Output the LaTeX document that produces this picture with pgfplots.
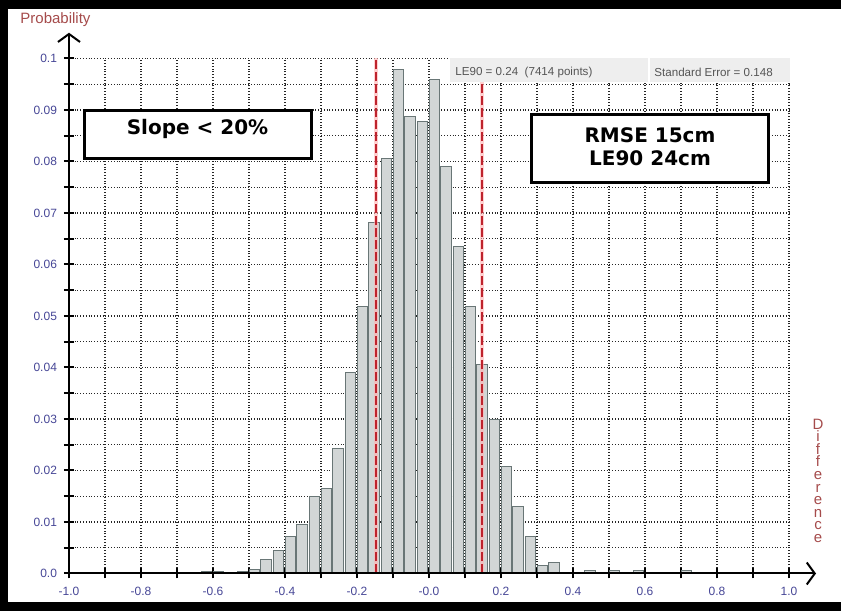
\documentclass[border=0pt]{standalone}
\usepackage{fontspec}
\setmainfont{Liberation Sans}
\newfontfamily\boxfont{DejaVu Sans}
\usepackage{pgfplots}
\usepackage{pgfplotstable}
\pgfplotsset{compat=1.18}
\usetikzlibrary{arrows.meta}

\definecolor{tickblue}{RGB}{70,70,150}
\definecolor{labelred}{RGB}{165,75,75}
\definecolor{barfill}{RGB}{210,214,214}
\definecolor{baredge}{RGB}{105,118,118}
\definecolor{lered}{RGB}{190,35,45}
\definecolor{infogray}{RGB}{238,238,238}
\definecolor{infotext}{RGB}{85,85,85}

% bin centre, probability (bins of 1/30)
\pgfplotstableread{
x y
-0.6188 0.0004
-0.5855 0.0004
-0.5522 0.0001
-0.5188 0.0004
-0.4855 0.0008
-0.4522 0.0027
-0.4188 0.0045
-0.3855 0.0072
-0.3522 0.0096
-0.3188 0.0149
-0.2855 0.0166
-0.2522 0.0242
-0.2188 0.0391
-0.1855 0.0518
-0.1522 0.0681
-0.1188 0.0805
-0.0855 0.0978
-0.0522 0.0888
-0.0188 0.0877
0.0145 0.0960
0.0478 0.0790
0.0812 0.0635
0.1145 0.0518
0.1478 0.0406
0.1812 0.0299
0.2145 0.0208
0.2478 0.0130
0.2812 0.0072
0.3145 0.0016
0.3478 0.0022
0.4478 0.0006
0.5145 0.0006
0.5812 0.0006
0.7145 0.0006
}\hist

\begin{document}
\begin{tikzpicture}
\begin{axis}[
    scale only axis,
    width=360pt, height=257.5pt,
    xmin=-1, xmax=1, ymin=0, ymax=0.1,
    axis lines=left,
    axis line style={line width=1pt, -},
    xtick={-1,-0.8,-0.6,-0.4,-0.2,0,0.2,0.4,0.6,0.8,1},
    xticklabels={-1.0,-0.8,-0.6,-0.4,-0.2,-0.0,0.2,0.4,0.6,0.8,1.0},
    minor xtick={-0.9,-0.7,-0.5,-0.3,-0.1,0.1,0.3,0.5,0.7,0.9},
    ytick={0,0.01,0.02,0.03,0.04,0.05,0.06,0.07,0.08,0.09,0.1},
    yticklabels={0.0,0.01,0.02,0.03,0.04,0.05,0.06,0.07,0.08,0.09,0.1},
    minor ytick={0.005,0.015,0.025,0.035,0.045,0.055,0.065,0.075,0.085,0.095},
    grid=both,
    major grid style={black!85, densely dotted, line width=0.6pt},
    minor grid style={black!85, densely dotted, line width=0.6pt},
    tick align=center,
    major tick length=5pt,
    minor tick length=5pt,
    every tick/.style={draw=black, solid, line width=1pt},
    tick label style={font=\fontsize{6}{7}\selectfont, text=tickblue},
    xticklabel style={yshift=-1pt},
    clip=false,
]
\addplot[ybar, bar width=0.029, fill=barfill, draw=baredge, line width=0.5pt] table {\hist};

% LE90 limits
\draw[red!30, line width=2pt, opacity=0.6] (axis cs:-0.148,0) -- (axis cs:-0.148,0.1);
\draw[red!30, line width=2pt, opacity=0.6] (axis cs:0.148,0) -- (axis cs:0.148,0.1);
\draw[lered, line width=1pt, dash pattern=on 4.5pt off 1.5pt] (axis cs:-0.148,0) -- (axis cs:-0.148,0.1);
\draw[lered, line width=1pt, dash pattern=on 4.5pt off 1.5pt] (axis cs:0.148,0) -- (axis cs:0.148,0.1);

% axes with open arrow heads
\draw[line width=1pt, -{Straight Barb[length=4pt,width=11pt]}] (axis cs:-1,0) -- (axis cs:1.075,0);
\draw[line width=1pt, -{Straight Barb[length=4pt,width=11pt]}] (axis cs:-1,0) -- (axis cs:-1,0.105);

% info strip
\fill[infogray] (axis cs:0.0583,0.0955) rectangle (axis cs:1.0028,0.1);
\draw[white, line width=1pt] (axis cs:0.611,0.0955) -- (axis cs:0.611,0.1);
\node[anchor=west, text=infotext, font=\fontsize{5.8}{7}\selectfont, inner sep=0pt]
    at (axis cs:0.0722,0.09724) {LE90 = 0.24\ \ (7414 points)};
\node[anchor=west, text=infotext, font=\fontsize{5.8}{7}\selectfont, inner sep=0pt]
    at (axis cs:0.625,0.09724) {Standard Error = 0.148};

% annotation boxes
\draw[line width=1.5pt, fill=white] (axis cs:-0.9569,0.08058) rectangle (axis cs:-0.3264,0.08984);
\node[font={\boxfont\bfseries\fontsize{10}{12}\selectfont}] at (axis cs:-0.643,0.0863) {Slope < 20\%};
\draw[line width=1.5pt, fill=white] (axis cs:0.2847,0.07592) rectangle (axis cs:0.9431,0.08913);
\node[font={\boxfont\bfseries\fontsize{10}{11.5}\selectfont}, align=center] at (axis cs:0.6139,0.0828) {RMSE 15cm\\LE90 24cm};

% axis titles
\node[anchor=west, text=labelred, font=\fontsize{7.5}{9}\selectfont, inner sep=0pt]
    at (axis cs:-1.136,0.1075) {Probability};
\node[text=labelred, font=\fontsize{7.5}{6.3}\selectfont, align=center]
    at (axis cs:1.0806,0.018) {D\\i\\f\\f\\e\\r\\e\\n\\c\\e};

% black frame (top, left, bottom)
\fill[black] (axis cs:-1.19167,0.109515) rectangle (axis cs:1.14444,0.111359);
\fill[black] (axis cs:-1.19167,-0.007282) rectangle (axis cs:-1.16944,0.111359);
\fill[black] (axis cs:-1.19167,-0.007282) rectangle (axis cs:1.14444,-0.005631);
\end{axis}
\end{tikzpicture}
\end{document}
